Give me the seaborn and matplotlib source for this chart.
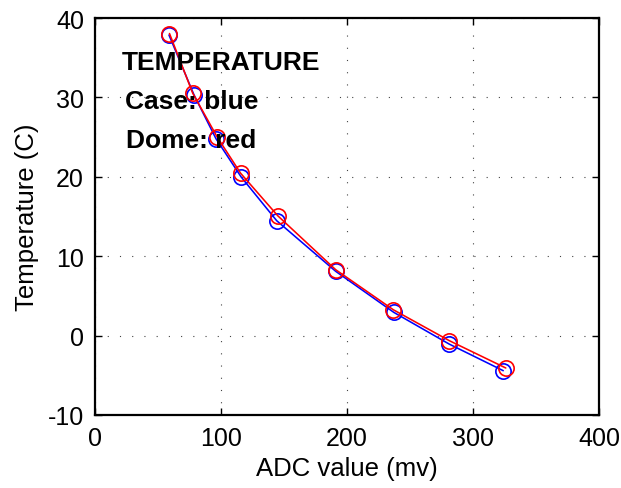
import matplotlib
matplotlib.use("Agg")
import matplotlib.pyplot as plt
import seaborn as sns
import pandas as pd

# ADC readings (mV) and temperatures (C) for the two sensors
case_adc = [58.7, 78.6, 96.0, 115.9, 144.2, 191.0, 237.1, 281.0, 324.0]
case_temp = [37.86, 30.3, 24.8, 20.0, 14.47, 8.1, 2.93, -1.06, -4.42]

dome_adc = [59.1, 77.5, 97.1, 115.6, 145.0, 191.0, 236.7, 281.2, 326.0]
dome_temp = [38.05, 30.55, 24.97, 20.44, 15.10, 8.30, 3.26, -0.64, -4.08]

x_ticks = [0, 100, 200, 300, 400]
y_ticks = [-10, 0, 10, 20, 30, 40]

sns.set_theme(style="ticks")
plt.rcParams["font.family"] = ["Liberation Sans", "DejaVu Sans"]
plt.rcParams["text.color"] = "black"
plt.rcParams["axes.labelcolor"] = "black"
plt.rcParams["xtick.color"] = "black"
plt.rcParams["ytick.color"] = "black"

fig = plt.figure(figsize=(6.21, 4.89), dpi=100)
ax = fig.add_axes([0.153, 0.1493, 0.8116, 0.8118])

case_df = pd.DataFrame({"adc": case_adc, "temp": case_temp})
dome_df = pd.DataFrame({"adc": dome_adc, "temp": dome_temp})

style = dict(marker="o", markersize=11, markerfacecolor="none",
             markeredgewidth=1.2, linewidth=1.15, sort=False)
sns.lineplot(data=case_df, x="adc", y="temp", ax=ax, color="blue",
             markeredgecolor="blue", zorder=3, **style)
sns.lineplot(data=dome_df, x="adc", y="temp", ax=ax, color="red",
             markeredgecolor="red", zorder=4, **style)

ax.set_xlim(0, 400)
ax.set_ylim(-10, 40)
ax.set_xticks(x_ticks)
ax.set_yticks(y_ticks)
ax.set_xticklabels([str(t) for t in x_ticks], fontsize=18)
ax.set_yticklabels([str(t) for t in y_ticks], fontsize=18)
ax.tick_params(direction="in", length=5, width=1, top=True, right=True,
               pad=8, colors="black")

ax.grid(True, color="#444444", linestyle=(0, (1, 10)), linewidth=0.8)
for side in ax.spines.values():
    side.set_visible(True)
    side.set_linewidth(1.6)
    side.set_color("black")

ax.set_xlabel("ADC value (mv)", fontsize=18.5, labelpad=4, color="black")
ax.set_ylabel("Temperature (C)", fontsize=18.5, labelpad=6, color="black")

ax.text(21.4, 33.6, "TEMPERATURE", fontsize=19, fontweight="bold",
        color="black", ha="left", va="baseline", zorder=6)
ax.text(23.8, 28.67, "Case: blue", fontsize=19, fontweight="bold",
        color="black", ha="left", va="baseline", zorder=6)
ax.text(24.6, 23.7, "Dome: red", fontsize=19, fontweight="bold",
        color="black", ha="left", va="baseline", zorder=6)

fig.savefig("out.png", dpi=100)
